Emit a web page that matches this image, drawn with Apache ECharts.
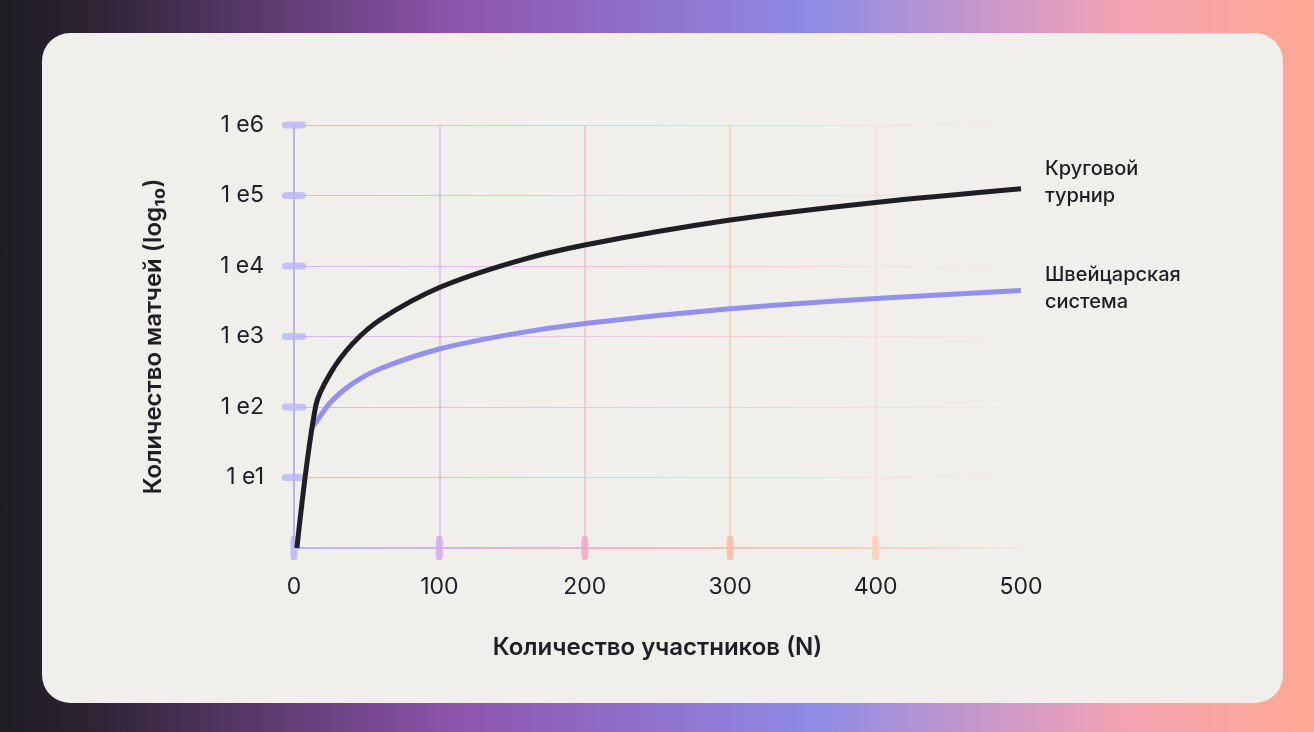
<!DOCTYPE html>
<html>
<head>
<meta charset="utf-8">
<script src="https://cdn.jsdelivr.net/npm/echarts@6/dist/echarts.min.js"></script>
<style>
  html, body { margin: 0; padding: 0; }
  body {
    width: 1314px; height: 732px;
    background: linear-gradient(90deg, #1d1d22 0%, #2a2230 6%, #8e55ad 35%, #8f8be6 62%, #f2a2b4 85%, #ffa993 100%);
  }
  #chart { width: 1314px; height: 732px; }
</style>
</head>
<body>
<div id="chart"></div>
<script>
  // values
  var participants = [2, 15, 25, 40, 60, 100, 150, 200, 300, 400, 500];
  var roundRobin = [1, 105, 300, 780, 1770, 4950, 11200, 19900, 44900, 79800, 124750];
  var swissN = [12, 15, 25, 40, 60, 100, 150, 200, 300, 400, 500];
  var swiss = [50, 60, 116, 213, 354, 664, 1080, 1530, 2470, 3460, 4480];
  var xTicks = [0, 100, 200, 300, 400];
  var xTickColors = ['#b6b2f6', '#d7a2f0', '#f3a5c3', '#f8b9a2', '#fbcdb4'];
  var yTicks = [10, 100, 1000, 10000, 100000, 1000000];

  var chart = echarts.init(document.getElementById('chart'));
  var font = 'Inter, "Noto Sans", sans-serif';

  // horizontal lines fade out towards the right
  var fade = new echarts.graphic.LinearGradient(0, 0, 1, 0, [
    { offset: 0, color: 'rgba(200,170,240,0.8)' },
    { offset: 0.6, color: 'rgba(246,190,205,0.7)' },
    { offset: 1, color: 'rgba(246,200,190,0)' }
  ]);
  var axisFade = new echarts.graphic.LinearGradient(0, 0, 1, 0, [
    { offset: 0, color: '#b8b5f7' },
    { offset: 0.4, color: '#f0b4cc' },
    { offset: 0.75, color: '#f8ccb8' },
    { offset: 1, color: 'rgba(248,210,190,0.2)' }
  ]);

  var option = {
    backgroundColor: 'transparent',
    animation: false,
    graphic: [{
      type: 'rect', z: -10, silent: true,
      shape: { x: 42, y: 33, width: 1241, height: 670, r: 28 },
      style: { fill: '#f0efec' }
    }],
    grid: { left: 294, right: 293, top: 125, bottom: 184 },
    xAxis: {
      type: 'value', min: 0, max: 500, interval: 100,
      name: 'Количество участников (N)', nameLocation: 'middle', nameGap: 88,
      nameTextStyle: { fontFamily: font, fontSize: 24, fontWeight: 600, color: '#1e1e24' },
      axisLine: { lineStyle: { color: axisFade, width: 2 } },
      axisTick: { show: false },
      axisLabel: { fontFamily: font, fontSize: 23, color: '#1e1e24', margin: 28 },
      splitLine: { show: true, lineStyle: { width: 1.5,
        color: ['rgba(0,0,0,0)', '#e0b4f3', '#f6bcd0', '#f8cdb6', '#f4ddd0', 'rgba(0,0,0,0)'] } }
    },
    yAxis: {
      type: 'log', logBase: 10, min: 1, max: 1000000,
      name: 'Количество матчей (log₁₀)', nameLocation: 'middle', nameGap: 128,
      nameTextStyle: { fontFamily: font, fontSize: 24, fontWeight: 600, color: '#1e1e24' },
      axisLine: { show: true, lineStyle: { color: '#b8b5f7', width: 2 } },
      axisTick: { show: false },
      axisLabel: {
        fontFamily: font, fontSize: 23, color: '#1e1e24', margin: 30,
        formatter: function (v) {
          if (v <= 1) return '';
          return '1 e' + Math.round(Math.log10(v));
        }
      },
      splitLine: { show: true, lineStyle: { color: fade, width: 1.2 } }
    },
    series: [
      {
        type: 'scatter', silent: true, z: 3,
        symbol: 'roundRect', symbolSize: [24, 7],
        itemStyle: { color: '#b8b5f7' },
        data: yTicks.map(function (v) { return [0, v]; })
      },
      {
        type: 'scatter', silent: true, z: 3,
        symbol: 'roundRect', symbolSize: [7, 24],
        data: xTicks.map(function (v, i) {
          return { value: [v, 1], itemStyle: { color: xTickColors[i] } };
        })
      },
      {
        name: 'Швейцарская система', type: 'line', z: 4,
        showSymbol: false, smooth: 0.3,
        lineStyle: { color: '#9390ee', width: 5 },
        data: swissN.map(function (n, i) { return [n, swiss[i]]; }),
        endLabel: {
          show: true, formatter: 'Швейцарская\nсистема', distance: 24,
          fontFamily: font, fontSize: 20, fontWeight: 500, color: '#1e1e24', lineHeight: 27, offset: [0, -2]
        }
      },
      {
        name: 'Круговой турнир', type: 'line', z: 5,
        showSymbol: false, smooth: 0.3,
        lineStyle: { color: '#1e1e24', width: 5 },
        data: participants.map(function (n, i) { return [n, roundRobin[i]]; }),
        endLabel: {
          show: true, formatter: 'Круговой\nтурнир', distance: 24,
          fontFamily: font, fontSize: 20, fontWeight: 500, color: '#1e1e24', lineHeight: 27, offset: [0, -6]
        }
      }
    ]
  };

  chart.setOption(option);
</script>
</body>
</html>
